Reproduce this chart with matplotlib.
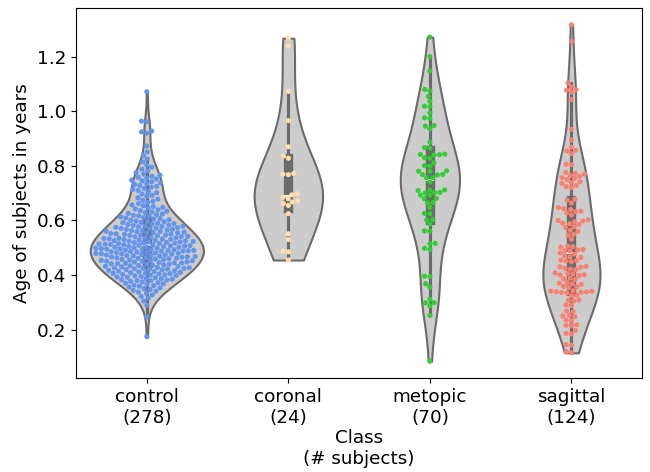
import matplotlib
matplotlib.use("Agg")
import matplotlib.pyplot as plt
import pandas as pd
import seaborn as sns

control = [
    0.174, 0.247, 0.290, 0.305, 0.315,
    0.322, 0.327, 0.333, 0.338,
    0.341, 0.344, 0.347, 0.350, 0.353, 0.356, 0.359,
    0.361, 0.363, 0.366, 0.368, 0.370, 0.372, 0.375, 0.377, 0.379,
    0.380, 0.382, 0.383, 0.385, 0.387, 0.388, 0.390, 0.392, 0.393, 0.395, 0.397, 0.398,
    0.400, 0.401, 0.402, 0.404, 0.405, 0.406, 0.408, 0.409, 0.410, 0.412, 0.413, 0.414,
    0.416, 0.417, 0.419,
    0.420, 0.421, 0.422, 0.423, 0.424, 0.425, 0.426, 0.427, 0.428, 0.430, 0.431, 0.432,
    0.434, 0.435, 0.436, 0.437, 0.439,
    0.440, 0.441, 0.442, 0.443, 0.444, 0.445, 0.446, 0.447, 0.448, 0.450, 0.451, 0.452,
    0.453, 0.454, 0.455, 0.456, 0.457, 0.459,
    0.460, 0.461, 0.462, 0.463, 0.464, 0.465, 0.466, 0.467, 0.468, 0.469,
    0.470, 0.471, 0.472, 0.473, 0.474, 0.475, 0.476, 0.477, 0.478, 0.479,
    0.480, 0.481, 0.482, 0.483, 0.484, 0.485, 0.486, 0.487, 0.488, 0.489, 0.490,
    0.490, 0.491, 0.492, 0.493, 0.494, 0.495, 0.496, 0.497, 0.498, 0.499,
    0.500, 0.501, 0.502, 0.503, 0.504, 0.505, 0.506, 0.507, 0.508, 0.509,
    0.510, 0.511, 0.512, 0.513, 0.514, 0.515, 0.516, 0.517, 0.518, 0.519,
    0.520, 0.521, 0.522, 0.523, 0.524, 0.525, 0.526, 0.527, 0.528, 0.530, 0.531, 0.532,
    0.533, 0.534, 0.535, 0.536, 0.537, 0.539,
    0.540, 0.541, 0.542, 0.544, 0.545, 0.546, 0.547, 0.549, 0.550, 0.551, 0.552, 0.554,
    0.555, 0.556, 0.557, 0.559,
    0.560, 0.561, 0.563, 0.564, 0.565, 0.567, 0.568, 0.570, 0.571, 0.572, 0.574, 0.575,
    0.577, 0.578, 0.579,
    0.580, 0.582, 0.583, 0.585, 0.587, 0.588, 0.590, 0.592, 0.593, 0.595, 0.597, 0.598,
    0.601, 0.603, 0.605, 0.607, 0.609, 0.611, 0.613, 0.615, 0.617, 0.619,
    0.621, 0.624, 0.626, 0.629, 0.631, 0.634, 0.636, 0.639,
    0.642, 0.645, 0.648, 0.651, 0.654, 0.657,
    0.662, 0.666, 0.670, 0.674, 0.678,
    0.683, 0.688, 0.692, 0.697,
    0.702, 0.706, 0.710, 0.714, 0.718,
    0.722, 0.725, 0.728, 0.732, 0.735, 0.738,
    0.742, 0.745, 0.748, 0.752, 0.755, 0.758,
    0.762, 0.766, 0.770, 0.775,
    0.782, 0.788, 0.795,
    0.803, 0.815, 0.825, 0.838, 0.851, 0.873,
    0.920, 0.925, 0.928, 0.962, 0.964, 1.072,
]

coronal = [
    1.268, 1.240, 1.073, 0.966, 0.870, 0.836, 0.828, 0.772, 0.770, 0.768,
    0.698, 0.694, 0.685, 0.680, 0.672, 0.668, 0.662, 0.655, 0.625, 0.551,
    0.530, 0.488, 0.485, 0.455,
]

metopic = [
    1.272, 1.201, 1.148, 1.080, 1.075, 1.055, 1.037, 1.019, 1.017, 0.994,
    0.976, 0.974, 0.948, 0.946, 0.936, 0.887, 0.867, 0.865,
    0.843, 0.842, 0.841, 0.840, 0.830, 0.828, 0.812, 0.801, 0.799,
    0.782, 0.781, 0.780, 0.769, 0.768, 0.767, 0.757, 0.756, 0.741,
    0.712, 0.711, 0.710, 0.703, 0.702, 0.701, 0.693, 0.692, 0.681, 0.680,
    0.666, 0.665, 0.648, 0.626, 0.625, 0.603, 0.602, 0.587, 0.562, 0.561,
    0.516, 0.515, 0.498, 0.494, 0.396, 0.395, 0.368, 0.356,
    0.311, 0.299, 0.298, 0.287, 0.252, 0.084,
]

sagittal = [
    1.317, 1.256, 1.104, 1.089, 1.080, 1.078, 1.070, 1.043,
    0.934, 0.895, 0.869, 0.857, 0.855, 0.845, 0.806, 0.804,
    0.776, 0.773, 0.770, 0.765, 0.762, 0.757, 0.754, 0.750, 0.742, 0.739,
    0.736, 0.728, 0.724, 0.720,
    0.678, 0.675, 0.664, 0.647, 0.644, 0.640, 0.634, 0.632, 0.628, 0.620,
    0.603, 0.600, 0.598, 0.596, 0.590, 0.588, 0.585, 0.577, 0.574, 0.564,
    0.560, 0.549, 0.546, 0.531,
    0.506, 0.504, 0.502, 0.494, 0.492, 0.490, 0.488, 0.481, 0.477, 0.470,
    0.467, 0.465, 0.455, 0.453, 0.451, 0.449,
    0.432, 0.430, 0.428, 0.425, 0.422, 0.420, 0.408, 0.406, 0.404, 0.401,
    0.400, 0.398, 0.388, 0.386, 0.384,
    0.372, 0.370, 0.368, 0.366, 0.358, 0.356, 0.354, 0.342, 0.341, 0.340,
    0.339, 0.338, 0.337, 0.336, 0.335,
    0.326, 0.324, 0.309, 0.307, 0.305, 0.290, 0.288,
    0.268, 0.266, 0.252, 0.250, 0.248, 0.235, 0.233, 0.218, 0.216, 0.214,
    0.197, 0.186, 0.184, 0.145, 0.143, 0.119, 0.115,
]

classes = ["control", "coronal", "metopic", "sagittal"]
colors = ["cornflowerblue", "navajowhite", "limegreen", "salmon"]

ages = [control, coronal, metopic, sagittal]
df = pd.DataFrame({
    "cls": [c for c, a in zip(classes, ages) for _ in a],
    "age": [v for a in ages for v in a],
})

fig, ax = plt.subplots(figsize=(6.5, 4.72), dpi=100)
fig.subplots_adjust(left=0.117, right=0.988, top=0.983, bottom=0.199)

sns.violinplot(data=df, x="cls", y="age", order=classes, color="0.8",
               cut=0, inner="box", linewidth=1.5, linecolor="0.42", ax=ax)
sns.swarmplot(data=df, x="cls", y="age", order=classes, hue="cls",
              palette=dict(zip(classes, colors)), size=3.7, legend=False, ax=ax)

ax.set_xticks(range(len(classes)))
ax.set_xticklabels([f"{c}\n({len(a)})" for c, a in zip(classes, ages)], fontsize=13.2)
ax.tick_params(axis="y", labelsize=13.2)
ax.set_xlabel("Class\n(# subjects)", fontsize=13.2, labelpad=2)
ax.set_ylabel("Age of subjects in years", fontsize=13.2)

plt.savefig("out.png", dpi=100)
